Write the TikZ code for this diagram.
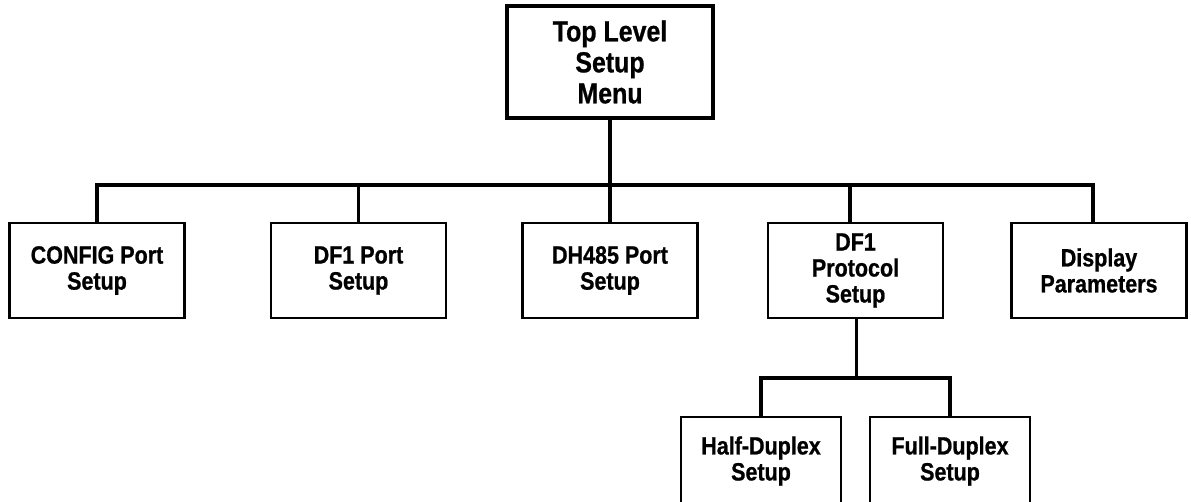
\documentclass[tikz,border=0pt]{standalone}
\usepackage{fontspec}
\setmainfont{Liberation Sans}[FakeStretch=0.86, BoldFeatures={FakeBold=0.8}]
\begin{document}
\begin{tikzpicture}[x=1pt,y=-1pt,
  box/.style={draw,line width=2.2pt,rectangle,inner sep=0pt,minimum width=175pt,minimum height=95pt,align=center,font=\fontsize{25}{26}\selectfont\bfseries},
  subbox/.style={box,minimum width=160pt,minimum height=88pt},
  topbox/.style={draw,line width=4pt,rectangle,inner sep=0pt,minimum width=206pt,minimum height=112pt,align=center,font=\fontsize{29}{31}\selectfont\bfseries},
  link/.style={line width=3.3pt}]
\useasboundingbox (0,0) rectangle (1191,502);
\clip (0,0) rectangle (1191,502);
\node[topbox] (top) at (610,62) {Top Level\\Setup\\Menu};
\node[box] (c1) at (97,270.5) {CONFIG Port\\Setup};
\node[box] (c2) at (358.5,270.5) {DF1 Port\\Setup};
\node[box] (c3) at (610,270.5) {DH485 Port\\Setup};
\node[box] (c4) at (855.5,270.5) {DF1\\Protocol\\Setup};
\node[box] (c5) at (1099,270.5) {Display\\Parameters};
\node[subbox] (h) at (761,461) {Half-Duplex\\Setup};
\node[subbox] (f) at (950,461) {Full-Duplex\\Setup};
\coordinate (bar) at (0,185);
\coordinate (sub) at (0,378);
\coordinate (d4) at ([xshift=-5.5pt]c4.north);
\coordinate (d5) at ([xshift=-6pt]c5.north);
\coordinate (u4) at ([xshift=1pt]c4.south);
\draw[link] (top.south) -- (top.south |- bar);
\draw[link] (c1.north) -- (c1.north |- bar) -- (d5 |- bar) -- (d5);
\draw[link] (c2.north) -- (c2.north |- bar);
\draw[link] (c3.north) -- (c3.north |- bar);
\draw[link] (d4) -- (d4 |- bar);
\draw[link] (u4) -- (u4 |- sub);
\draw[link] (h.north) -- (h.north |- sub) -- (f.north |- sub) -- (f.north);
\end{tikzpicture}
\end{document}
